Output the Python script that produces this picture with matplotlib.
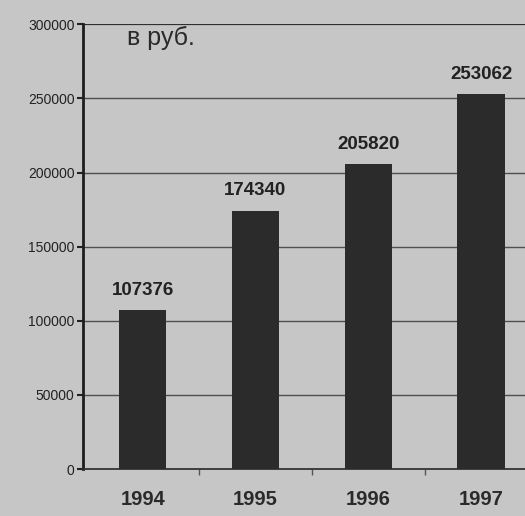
import matplotlib
matplotlib.use("Agg")
import matplotlib.pyplot as plt
from matplotlib.ticker import FixedLocator

years = ["1994", "1995", "1996", "1997"]
values = [107376, 174340, 205820, 253062]
yticks = [0, 50000, 100000, 150000, 200000, 250000, 300000]
unit_label = "в руб."

bg = "#c6c6c6"
plt.rcParams['font.family'] = ['Liberation Sans', 'DejaVu Sans']

fig = plt.figure(figsize=(5.25, 5.16), dpi=100, facecolor=bg)
ax = fig.add_axes([0.158, 0.091, 0.842, 0.862], facecolor=bg)

x = list(range(len(years)))
ax.bar(x, values, width=0.42, color="#2b2b2b", zorder=3)

ax.set_ylim(0, 300000)
ax.set_xlim(-0.53, 3.39)
ax.set_yticks(yticks)
ax.set_yticklabels([str(v) for v in yticks], fontsize=10, color="#222222")

ax.set_xticks(x)
ax.set_xticklabels(years, fontsize=14.5, fontweight="bold", color="#2a2a2a")
ax.xaxis.set_minor_locator(FixedLocator([0.5, 1.5, 2.5]))
ax.tick_params(axis="x", which="major", length=0, pad=15)
ax.tick_params(axis="x", which="minor", length=4, color="#555555", width=1, direction="out")
ax.tick_params(axis="y", length=4, width=1.5, color="#222222", pad=2)

for yv in yticks[1:]:
    ax.axhline(yv, color="#505050" if yv < 300000 else "#303030",
               lw=1.0 if yv < 300000 else 1.6, zorder=1)

for s in ["top", "right"]:
    ax.spines[s].set_visible(False)
ax.spines["left"].set_linewidth(2)
ax.spines["left"].set_color("#1e1e1e")
ax.spines["bottom"].set_linewidth(1.3)
ax.spines["bottom"].set_color("#333333")

for xi, v in zip(x, values):
    ax.annotate(str(v), (xi, v), xytext=(0, 8), textcoords="offset points",
                ha="center", va="bottom", fontsize=13.5, fontweight="bold",
                color="#222222")

ax.text(0.1, 0.997, unit_label, transform=ax.transAxes, fontsize=18,
        color="#2a2a2a", ha="left", va="top")

fig.savefig("out.png", dpi=100, facecolor=bg)
